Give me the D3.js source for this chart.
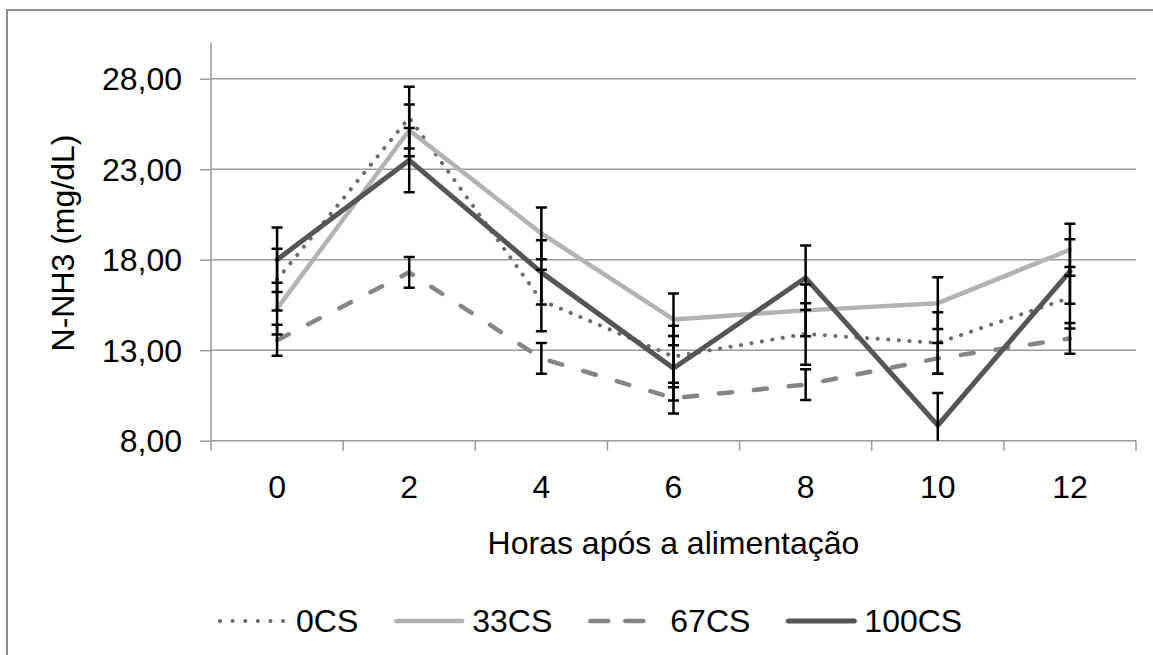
<!DOCTYPE html>
<html>
<head>
<meta charset="utf-8">
<script src="https://cdn.jsdelivr.net/npm/d3@7"></script>
<style>
  html, body { margin: 0; padding: 0; background: #fff; }
  svg text { font-family: "Liberation Sans", Arial, sans-serif; fill: #000; }
</style>
</head>
<body>
<svg id="chart" width="1153" height="655"></svg>
<script>
// ---- data ----
const hours = ["0", "2", "4", "6", "8", "10", "12"];
const yTicks = [8, 13, 18, 23, 28];
const seriesNames = ["0CS", "33CS", "67CS", "100CS"];
const v0CS   = [16.9, 25.85, 15.75, 12.65, 13.9, 13.4, 15.9];
const v33CS  = [15.3, 25.15, 19.45, 14.7, 15.2, 15.6, 18.55];
const v67CS  = [13.55, 17.3, 12.55, 10.35, 11.1, 12.55, 13.65];
const v100CS = [18.0, 23.5, 17.3, 12.0, 17.0, 8.85, 17.35];
const e0CS   = [1.7, 1.7, 1.7, 1.7, 1.7, 1.7, 1.7];
const e33CS  = [1.43, 1.43, 1.43, 1.43, 1.43, 1.43, 1.43];
const e67CS  = [0.85, 0.85, 0.85, 0.85, 0.85, 0.85, 0.85];
const e100CS = [1.78, 1.78, 1.78, 1.78, 1.78, 1.78, 1.78];

const styles = {
  "0CS":   { color: "#6b6b6b", width: 4,   dash: "0.1,10.5", cap: "round", legendDash: "0.1,12.5" },
  "33CS":  { color: "#b2b2b2", width: 4.5, dash: null, cap: "round", legendDash: null },
  "67CS":  { color: "#858585", width: 4.5, dash: "13,22", cap: "round", legendDash: "18,17" },
  "100CS": { color: "#555555", width: 5,   dash: null, cap: "round", legendDash: null }
};

const series = [
  { name: "0CS", values: v0CS, errs: e0CS },
  { name: "33CS", values: v33CS, errs: e33CS },
  { name: "67CS", values: v67CS, errs: e67CS },
  { name: "100CS", values: v100CS, errs: e100CS }
];

// ---- layout ----
const svg = d3.select("#chart");
const plot = { left: 211, right: 1136, top: 42.5, bottom: 440.7 };
const fontSize = 32;

const x = d3.scaleBand().domain(hours).range([plot.left, plot.right]).paddingInner(0).paddingOuter(0);
const y = d3.scaleLinear().domain([8, 30]).range([plot.bottom, plot.top]);
const cx = h => x(h) + x.bandwidth() / 2;

// outer border
svg.append("rect")
  .attr("x", 7).attr("y", 10).attr("width", 1160).attr("height", 660)
  .attr("fill", "none").attr("stroke", "#8c8c8c").attr("stroke-width", 2);

// gridlines
svg.append("g").selectAll("line").data(yTicks.filter(t => t !== 8)).join("line")
  .attr("x1", plot.left).attr("x2", plot.right)
  .attr("y1", d => y(d)).attr("y2", d => y(d))
  .attr("stroke", "#9a9a9a").attr("stroke-width", 1.5);

// y axis
const yAxis = d3.axisLeft(y).tickValues(yTicks).tickSize(11).tickPadding(18)
  .tickFormat(d => d3.format(".2f")(d).replace(".", ","));
const gy = svg.append("g").attr("transform", `translate(${plot.left},0)`).call(yAxis);
gy.select(".domain").attr("stroke", "#9a9a9a").attr("stroke-width", 1.5)
  .attr("d", `M0,${plot.top}V${plot.bottom}`);
gy.selectAll(".tick line").attr("stroke", "#9a9a9a").attr("stroke-width", 1.5);
gy.selectAll(".tick text").attr("font-size", fontSize).attr("dy", "0.35em")
  .style("font-family", "'Liberation Sans', Arial, sans-serif").attr("fill", "#000");

// x axis
const xAxis = d3.axisBottom(x).tickSize(0).tickPadding(35);
const gx = svg.append("g").attr("transform", `translate(0,${plot.bottom})`).call(xAxis);
gx.select(".domain").attr("stroke", "#9a9a9a").attr("stroke-width", 1.5)
  .attr("d", `M${plot.left},0H${plot.right}`);
gx.selectAll(".tick text").attr("font-size", fontSize)
  .style("font-family", "'Liberation Sans', Arial, sans-serif").attr("fill", "#000");
// category boundary ticks
const bounds = hours.map(h => x(h)).concat([x(hours[hours.length - 1]) + x.bandwidth()]);
gx.append("g").selectAll("line").data(bounds).join("line")
  .attr("x1", d => d).attr("x2", d => d).attr("y1", 0).attr("y2", 10)
  .attr("stroke", "#9a9a9a").attr("stroke-width", 1.5);

// axis titles
svg.append("text")
  .attr("x", (plot.left + plot.right) / 2).attr("y", 554)
  .attr("text-anchor", "middle").attr("font-size", fontSize)
  .text("Horas após a alimentação");
svg.append("text")
  .attr("transform", `translate(74,243) rotate(-90)`)
  .attr("text-anchor", "middle").attr("font-size", fontSize)
  .text("N-NH3 (mg/dL)");

// clip
svg.append("clipPath").attr("id", "plotclip").append("rect")
  .attr("x", plot.left - 10).attr("y", plot.top).attr("width", plot.right - plot.left + 20)
  .attr("height", plot.bottom - plot.top);

const gData = svg.append("g").attr("clip-path", "url(#plotclip)");
const line = d3.line().x((d, i) => cx(hours[i])).y(d => y(d));

series.forEach(s => {
  const st = styles[s.name];
  gData.append("path").datum(s.values)
    .attr("d", line).attr("fill", "none")
    .attr("stroke", st.color).attr("stroke-width", st.width)
    .attr("stroke-linecap", st.cap).attr("stroke-linejoin", "round")
    .attr("stroke-dasharray", st.dash);
});

// error bars
const capHalf = 5.5;
series.forEach(s => {
  const g = gData.append("g").attr("stroke", "#000").attr("stroke-width", 2.5);
  s.values.forEach((v, i) => {
    const xc = cx(hours[i]);
    const hi = v + s.errs[i], lo = v - s.errs[i];
    g.append("line").attr("x1", xc).attr("x2", xc).attr("y1", y(hi)).attr("y2", y(lo));
    g.append("line").attr("x1", xc - capHalf).attr("x2", xc + capHalf).attr("y1", y(hi)).attr("y2", y(hi));
    g.append("line").attr("x1", xc - capHalf).attr("x2", xc + capHalf).attr("y1", y(lo)).attr("y2", y(lo));
  });
});

// legend
const legend = svg.append("g");
let lx = 218;
const ly = 621;
seriesNames.forEach(name => {
  const st = styles[name];
  legend.append("line")
    .attr("x1", lx + 2).attr("x2", lx + 68).attr("y1", ly).attr("y2", ly)
    .attr("stroke", st.color).attr("stroke-width", st.width)
    .attr("stroke-linecap", "round").attr("stroke-dasharray", st.legendDash);
  const t = legend.append("text")
    .attr("x", name === "67CS" ? lx + 82 : lx + 78).attr("y", ly + 11)
    .attr("font-size", fontSize).text(name);
  const w = t.node().getComputedTextLength();
  lx = +t.attr("x") + w + 36;
});
</script>
</body>
</html>
